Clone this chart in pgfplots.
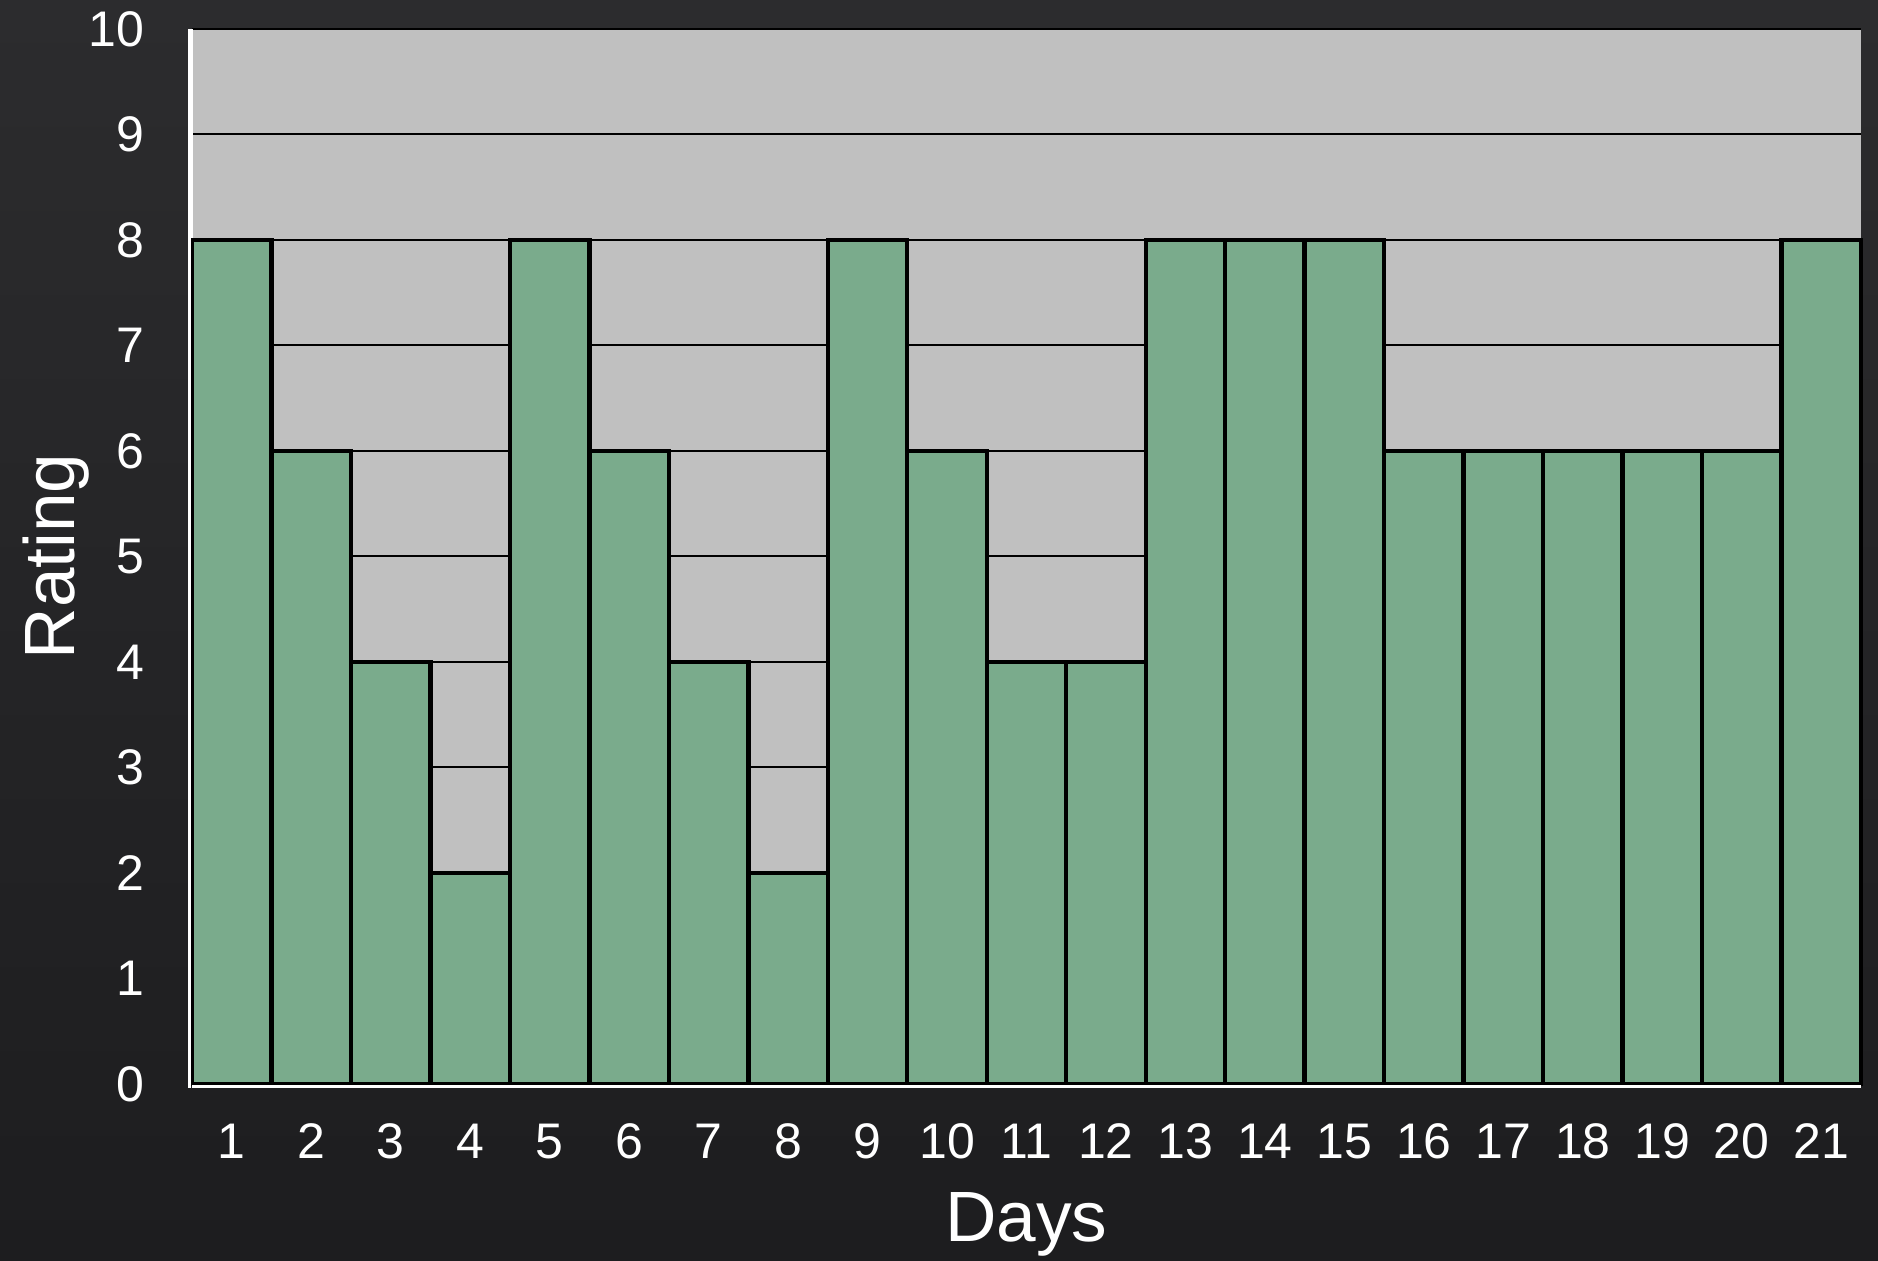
\documentclass[border=0pt]{standalone}
\usepackage{fontspec}
\setmainfont{Liberation Sans}
\usepackage{pgfplots}
\pgfplotsset{compat=1.18}
\definecolor{bgtop}{RGB}{44,44,46}
\definecolor{bgbot}{RGB}{29,29,31}
\definecolor{plotgray}{RGB}{192,192,192}
\definecolor{bargreen}{RGB}{122,171,140}
\begin{document}
\begin{tikzpicture}
\useasboundingbox (0,0) rectangle (469.5pt,315.25pt);
\shade[top color=bgtop, bottom color=bgbot] (0,0) rectangle (469.5pt,315.25pt);
\begin{axis}[
  at={(48pt,44.25pt)}, anchor=south west,
  scale only axis, width=417.25pt, height=263.75pt,
  xmin=0.5, xmax=21.5, ymin=0, ymax=10,
  xtick={1,...,21}, ytick={0,...,10},
  axis lines*=left,
  axis line style={white, line width=0.6pt},
  axis background/.style={fill=plotgray},
  ymajorgrids, grid style={black, line width=0.5pt},
  major tick length=0pt,
  /pgf/number format/assume math mode=true,
  tick label style={white, font=\fontsize{12.5}{15}\selectfont, inner sep=0pt},
  xticklabel style={anchor=north, yshift=-9.75pt},
  yticklabel style={anchor=east, xshift=-11.75pt},
  clip=false,
]
\addplot[ybar, bar width=1, fill=bargreen, draw=black, line width=1.1pt] coordinates {
(1,8) (2,6) (3,4) (4,2) (5,8) (6,6) (7,4) (8,2) (9,8) (10,6) (11,4)
(12,4) (13,8) (14,8) (15,8) (16,6) (17,6) (18,6) (19,6) (20,6) (21,8)
};
\draw[white, line width=0.6pt] ([yshift=-0.6pt]axis cs:0.5,0) -- ([yshift=-0.6pt]axis cs:21.5,0);
\draw[white, line width=0.6pt] ([xshift=-0.6pt,yshift=-0.9pt]axis cs:0.5,0) -- ([xshift=-0.6pt]axis cs:0.5,10);
\node[white, font=\fontsize{17.8}{20}\selectfont, inner sep=0pt, anchor=north]
  at ([yshift=-27pt]axis description cs:0.5,0) {Days};
\node[white, font=\fontsize{17.8}{20}\selectfont, inner sep=0pt, anchor=north, rotate=90]
  at ([xshift=-42.5pt]axis description cs:0,0.5) {Rating};
\end{axis}
\end{tikzpicture}
\end{document}
